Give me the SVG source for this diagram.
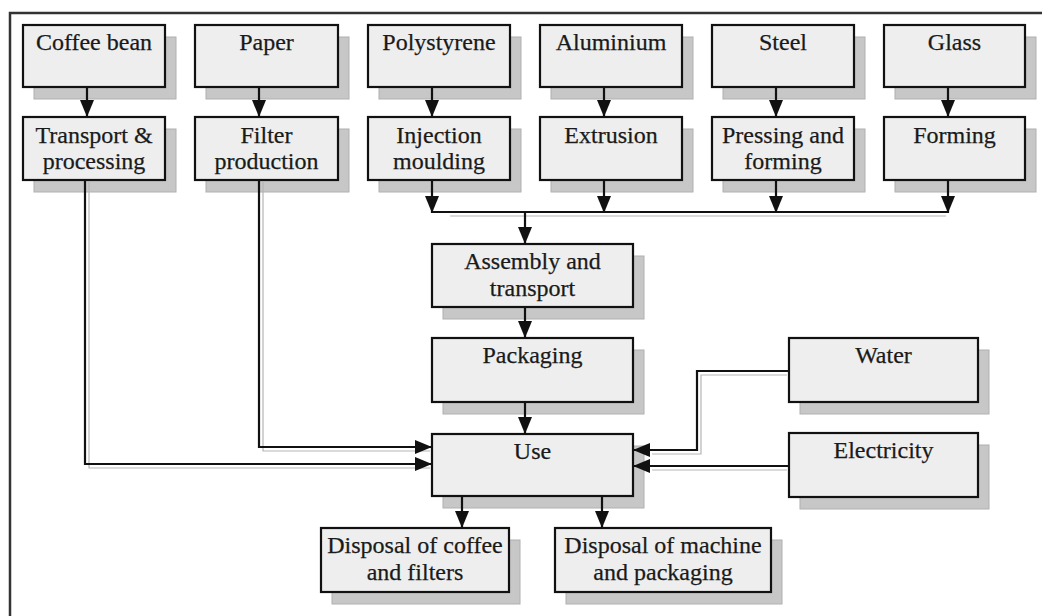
<svg xmlns="http://www.w3.org/2000/svg" width="1042" height="616" viewBox="0 0 1042 616">
  <style>
    .frame { fill: none; stroke: #333; stroke-width: 2.5; }
    .shadow { fill: #c7c7c7; stroke: #b0b0b0; stroke-width: 1; }
    .box { fill: #eeeeee; stroke: #111; stroke-width: 2.2; }
    .label { font-family: "Liberation Serif", "Times New Roman", serif; font-size: 24px; fill: #1a1a1a; stroke: #1a1a1a; stroke-width: 0.25; text-anchor: middle; }
    .wire { fill: none; stroke: #111; stroke-width: 2.2; }
    .wire-shade { fill: none; stroke: #b5b5b5; stroke-width: 1.2; }
  </style>
  <defs>
    <marker id="head" markerUnits="userSpaceOnUse" markerWidth="17" markerHeight="14" refX="17" refY="7" orient="auto">
      <path d="M0,0 L17,7 L0,14 z" fill="#111"/>
    </marker>
  </defs>

  <rect width="1042" height="616" fill="#ffffff"/>

  <!-- page frame (top and left edges) -->
  <path class="frame" d="M10,616 L10,13 L1042,13"/>

  <!-- row 1: materials -->
  <g id="coffee-bean">
    <rect class="shadow" x="34" y="37" width="142" height="62"/>
    <rect class="box" x="23" y="25" width="142" height="62"/>
    <text class="label" x="94" y="50">Coffee bean</text>
  </g>
  <g id="paper">
    <rect class="shadow" x="206" y="37" width="143" height="62"/>
    <rect class="box" x="195" y="25" width="143" height="62"/>
    <text class="label" x="266.5" y="50">Paper</text>
  </g>
  <g id="polystyrene">
    <rect class="shadow" x="379" y="37" width="142" height="62"/>
    <rect class="box" x="368" y="25" width="142" height="62"/>
    <text class="label" x="439" y="50">Polystyrene</text>
  </g>
  <g id="aluminium">
    <rect class="shadow" x="551" y="37" width="142" height="62"/>
    <rect class="box" x="540" y="25" width="142" height="62"/>
    <text class="label" x="611" y="50">Aluminium</text>
  </g>
  <g id="steel">
    <rect class="shadow" x="723" y="37" width="142" height="62"/>
    <rect class="box" x="712" y="25" width="142" height="62"/>
    <text class="label" x="783" y="50">Steel</text>
  </g>
  <g id="glass">
    <rect class="shadow" x="895" y="37" width="141" height="62"/>
    <rect class="box" x="884" y="25" width="141" height="62"/>
    <text class="label" x="954.5" y="50">Glass</text>
  </g>

  <!-- row 2: processing steps -->
  <g id="transport-processing">
    <rect class="shadow" x="34" y="129" width="142" height="63"/>
    <rect class="box" x="23" y="117" width="142" height="63"/>
    <text class="label" x="94" y="143">Transport &amp;</text>
    <text class="label" x="94" y="169">processing</text>
  </g>
  <g id="filter-production">
    <rect class="shadow" x="206" y="129" width="143" height="63"/>
    <rect class="box" x="195" y="117" width="143" height="63"/>
    <text class="label" x="266.5" y="143">Filter</text>
    <text class="label" x="266.5" y="169">production</text>
  </g>
  <g id="injection-moulding">
    <rect class="shadow" x="379" y="129" width="142" height="63"/>
    <rect class="box" x="368" y="117" width="142" height="63"/>
    <text class="label" x="439" y="143">Injection</text>
    <text class="label" x="439" y="169">moulding</text>
  </g>
  <g id="extrusion">
    <rect class="shadow" x="551" y="129" width="142" height="63"/>
    <rect class="box" x="540" y="117" width="142" height="63"/>
    <text class="label" x="611" y="143">Extrusion</text>
  </g>
  <g id="pressing-forming">
    <rect class="shadow" x="723" y="129" width="142" height="63"/>
    <rect class="box" x="712" y="117" width="142" height="63"/>
    <text class="label" x="783" y="143">Pressing and</text>
    <text class="label" x="783" y="169">forming</text>
  </g>
  <g id="forming">
    <rect class="shadow" x="895" y="129" width="141" height="63"/>
    <rect class="box" x="884" y="117" width="141" height="63"/>
    <text class="label" x="954.5" y="143">Forming</text>
  </g>

  <!-- central chain -->
  <g id="assembly-transport">
    <rect class="shadow" x="443" y="256" width="201" height="63"/>
    <rect class="box" x="432" y="244" width="201" height="63"/>
    <text class="label" x="532.5" y="269">Assembly and</text>
    <text class="label" x="532.5" y="296">transport</text>
  </g>
  <g id="packaging">
    <rect class="shadow" x="443" y="350" width="201" height="64"/>
    <rect class="box" x="432" y="338" width="201" height="64"/>
    <text class="label" x="532.5" y="363">Packaging</text>
  </g>
  <g id="use">
    <rect class="shadow" x="443" y="446" width="201" height="62"/>
    <rect class="box" x="432" y="434" width="201" height="62"/>
    <text class="label" x="532.5" y="459">Use</text>
  </g>

  <!-- utilities -->
  <g id="water">
    <rect class="shadow" x="800" y="350" width="189" height="64"/>
    <rect class="box" x="789" y="338" width="189" height="64"/>
    <text class="label" x="883.5" y="363">Water</text>
  </g>
  <g id="electricity">
    <rect class="shadow" x="800" y="445" width="189" height="64"/>
    <rect class="box" x="789" y="433" width="189" height="64"/>
    <text class="label" x="883.5" y="458">Electricity</text>
  </g>

  <!-- end of life -->
  <g id="disposal-coffee-filters">
    <rect class="shadow" x="332" y="540" width="188" height="64"/>
    <rect class="box" x="321" y="528" width="188" height="64"/>
    <text class="label" x="415" y="553">Disposal of coffee</text>
    <text class="label" x="415" y="580">and filters</text>
  </g>
  <g id="disposal-machine-packaging">
    <rect class="shadow" x="566" y="540" width="216" height="64"/>
    <rect class="box" x="555" y="528" width="216" height="64"/>
    <text class="label" x="663" y="553">Disposal of machine</text>
    <text class="label" x="663" y="580">and packaging</text>
  </g>

  <!-- connectors -->
  <g id="connectors">
    <!-- soft grey offsets along the long runs -->
    <g class="wire-shade">
      <path d="M89,182 L89,468 L430,468"/>
      <path d="M263,182 L263,451 L430,451"/>
      <path d="M787,375 L701,375 L701,454 L652,454"/>
      <path d="M787,470 L652,470"/>
      <path d="M450,216 L946,216"/>
    </g>

    <!-- material to process -->
    <path class="wire" d="M87,87 L87,117" marker-end="url(#head)"/>
    <path class="wire" d="M259,87 L259,117" marker-end="url(#head)"/>
    <path class="wire" d="M432,87 L432,117" marker-end="url(#head)"/>
    <path class="wire" d="M604,87 L604,117" marker-end="url(#head)"/>
    <path class="wire" d="M776,87 L776,117" marker-end="url(#head)"/>
    <path class="wire" d="M948,87 L948,117" marker-end="url(#head)"/>

    <!-- machine parts merge -->
    <path class="wire" d="M432,180 L432,213" marker-end="url(#head)"/>
    <path class="wire" d="M604,180 L604,213" marker-end="url(#head)"/>
    <path class="wire" d="M776,180 L776,213" marker-end="url(#head)"/>
    <path class="wire" d="M948,180 L948,213" marker-end="url(#head)"/>
    <path class="wire" d="M432,212 L948,212"/>
    <path class="wire" d="M525,212 L525,244" marker-end="url(#head)"/>

    <!-- assembly to use -->
    <path class="wire" d="M525,307 L525,338" marker-end="url(#head)"/>
    <path class="wire" d="M525,402 L525,434" marker-end="url(#head)"/>

    <!-- consumables into use -->
    <path class="wire" d="M85,180 L85,464 L432,464" marker-end="url(#head)"/>
    <path class="wire" d="M259,180 L259,447 L432,447" marker-end="url(#head)"/>

    <!-- utilities into use -->
    <path class="wire" d="M789,371 L697,371 L697,450 L633,450" marker-end="url(#head)"/>
    <path class="wire" d="M789,466 L633,466" marker-end="url(#head)"/>

    <!-- use to disposal -->
    <path class="wire" d="M462,496 L462,528" marker-end="url(#head)"/>
    <path class="wire" d="M602,496 L602,528" marker-end="url(#head)"/>
  </g>
</svg>
